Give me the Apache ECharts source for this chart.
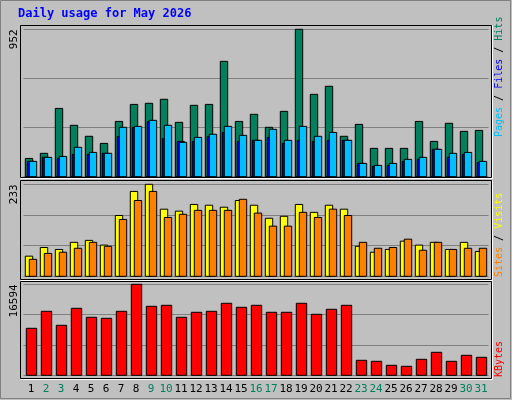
<!DOCTYPE html><html><head><meta charset="utf-8">
<script src="https://cdn.jsdelivr.net/npm/echarts@6/dist/echarts.min.js"></script>
<style>html,body{margin:0;padding:0;background:#c0c0c0}#c{width:512px;height:400px}</style></head><body><div id="c"></div>
<script>
const days = Array.from({length:31},(_,i)=>String(i+1));
const weekendDays = [2,3,9,10,16,17,23,24,30,31];
const hits  = [118,151,441,332,261,215,357,467,474,500,351,461,467,745,357,403,319,422,952,532,584,261,338,183,183,183,357,228,345,293,299];
const files = [99,125,131,190,157,151,319,325,364,332,222,254,274,325,267,235,306,235,325,261,286,235,86,73,86,112,125,177,151,157,99];
const pages = [99,125,118,144,144,151,260,318,357,247,228,228,260,286,228,235,254,215,235,228,235,235,86,67,73,99,112,177,125,144,92];
const visits = [51,73,68,86,91,79,154,215,233,170,165,182,180,175,192,180,147,152,182,162,180,170,76,61,68,89,79,86,68,86,63];
const sites  = [43,58,61,71,86,76,144,192,215,149,157,167,167,167,195,160,127,127,162,149,170,154,86,71,73,94,66,86,68,71,71];
const kbytes = [8571,11671,9118,12218,10577,10394,11671,16594,12583,12765,10577,11489,11671,13130,12400,12765,11489,11489,13130,11124,12036,12765,2735,2553,1824,1641,2918,4194,2553,3647,3282];
const maxLabels = ['952','233','16594'];
const maxVals = [952,233,16594];

const grids=[{left:23.5,width:465,top:29.3,height:147.4},{left:23.5,width:465,top:184.3,height:92},{left:23.5,width:465,top:284.3,height:91}];
function bar(gi,data,color,x0,x1){
  return {type:'custom',xAxisIndex:gi,yAxisIndex:gi,data:data.map((v,i)=>[i,v]),
    renderItem:(p,api)=>{const t=api.coord([api.value(0),api.value(1)]);const b=api.coord([api.value(0),0]);
      return {type:'rect',shape:{x:t[0]+x0,y:t[1],width:x1-x0,height:b[1]-t[1]},style:{fill:color,stroke:'#000',lineWidth:1}};}};
}
const chart=echarts.init(document.getElementById('c'),null,{renderer:'canvas'});
const xAxes=grids.map((g,i)=>({type:'category',gridIndex:i,data:days,boundaryGap:true,axisLine:{show:false},axisTick:{show:false},
  axisLabel:{show:i===2,interval:0,margin:8,fontFamily:'DejaVu Sans Mono',fontSize:11,
  color:(v)=>weekendDays.includes(+v)?'#00805c':'#000'}}));
const yAxes=grids.map((g,i)=>({type:'value',gridIndex:i,min:0,max:maxVals[i],interval:maxVals[i]/3,axisLabel:{show:false},axisLine:{show:false},axisTick:{show:false},
  splitLine:{show:true,lineStyle:{color:'#808080',width:1}}}));
const panels=[[20,25,471,152],[20,180,471,99],[20,281,471,97]];
const F='10px "DejaVu Sans Mono"';
const gfx=[
 {type:'rect',shape:{x:0.5,y:0.5,width:510,height:398},style:{fill:'#c0c0c0',stroke:'#808080',lineWidth:1},z:-10},
 {type:'text',x:18,y:8,style:{text:'Daily usage for May 2026',fill:'#0000ff',font:'bold 12px "DejaVu Sans Mono"'}},
 ...panels.map(p=>({type:'rect',shape:{x:p[0]+0.5,y:p[1]+0.5,width:p[2],height:p[3]},style:{fill:'#c0c0c0',stroke:'#000',lineWidth:1},z:-5})),
 ...panels.map(p=>({type:'polyline',shape:{points:[[p[0]+0.5,p[1]+p[3]+1.5],[p[0]+p[2]+1.5,p[1]+p[3]+1.5],[p[0]+p[2]+1.5,p[1]+0.5]]},style:{stroke:'#fff',lineWidth:1},z:-5})),
 ...grids.map((g,i)=>({type:'text',x:9,y:g.top,rotation:Math.PI/2,style:{text:maxLabels[i],fill:'#000',font:'11px "DejaVu Sans Mono"',align:'right',verticalAlign:'top'}})),
 {type:'text',x:494,y:137,rotation:Math.PI/2,style:{rich:{p:{fill:'#00c0ff',font:F},f:{fill:'#0000ff',font:F},h:{fill:'#00805c',font:F},s:{fill:'#000',font:F}},text:'{p|Pages}{s| / }{f|Files}{s| / }{h|Hits}',font:F,align:'left',verticalAlign:'top'}},
 {type:'text',x:494,y:277,rotation:Math.PI/2,style:{rich:{v:{fill:'#ffff00',font:F},t:{fill:'#ff8000',font:F},s:{fill:'#000',font:F}},text:'{t|Sites}{s| / }{v|Visits}',font:F,align:'left',verticalAlign:'top'}},
 {type:'text',x:494,y:377,rotation:Math.PI/2,style:{text:'KBytes',fill:'#ff0000',font:F,align:'left',verticalAlign:'top'}}
];
chart.setOption({animation:false,backgroundColor:'#c0c0c0',grid:grids,xAxis:xAxes,yAxis:yAxes,graphic:gfx,
 series:[bar(0,hits,'#00805c',-5.7,1.7),bar(0,pages,'#0000ff',-3.7,3.3),bar(0,files,'#00c0ff',-1.7,5.7),
   bar(1,visits,'#ffff00',-5.7,1.7),bar(1,sites,'#ff8000',-1.7,5.7),bar(2,kbytes,'#ff0000',-4.7,5.7)]});
</script></body></html>
